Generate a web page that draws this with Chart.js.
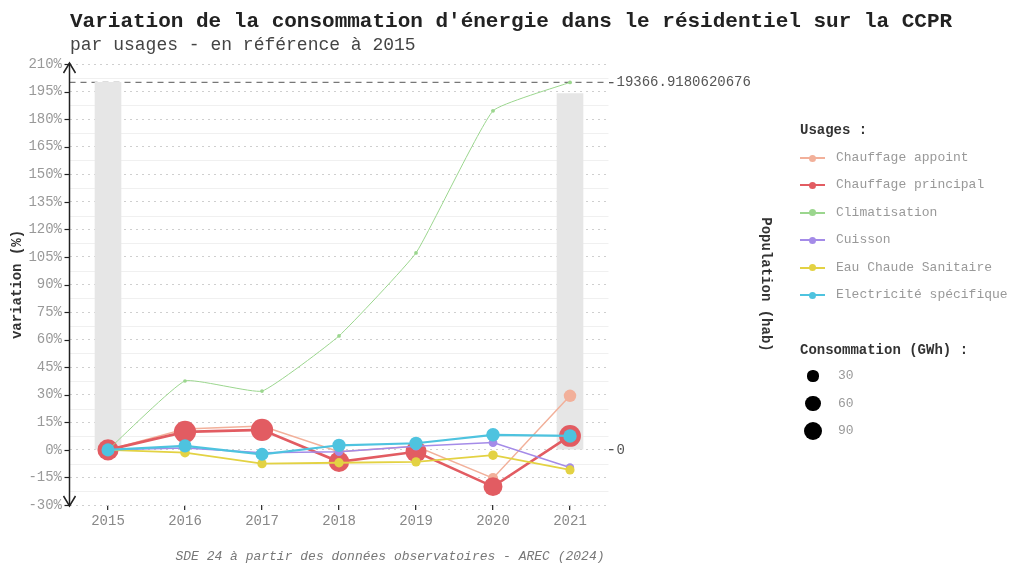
<!DOCTYPE html>
<html>
<head>
<meta charset="utf-8">
<script src="https://cdn.jsdelivr.net/npm/chart.js@4"></script>
<style>
  html, body { margin:0; padding:0; background:#fff; }
  #page { position:relative; width:1013px; height:565px; overflow:hidden; font-family:'Liberation Mono', 'DejaVu Sans Mono', monospace; }
  #c { position:absolute; left:0; top:0; }
  .abs { position:absolute; white-space:nowrap; }
  #title { left:70px; top:10px; font-size:21px; line-height:24px; font-weight:bold; color:#222; }
  #subtitle { left:70px; top:34px; font-size:18px; line-height:22px; color:#444; }
  #caption { left:0; width:780px; text-align:center; top:549px; font-size:13px; line-height:16px; font-style:italic; color:#777; }
  .lgtitle { font-size:14px; font-weight:bold; color:#333; line-height:16px; }
  .lgtext { font-size:13px; color:#999; line-height:16px; }
</style>
</head>
<body>
<div id="page">
  <canvas id="c" width="1013" height="565"></canvas>
  <div id="title" class="abs">Variation de la consommation d'énergie dans le résidentiel sur la CCPR</div>
  <div id="subtitle" class="abs">par usages - en référence à 2015</div>
  <div id="caption" class="abs">SDE 24 à partir des données observatoires - AREC (2024)</div>
  <div id="legend"></div>
</div>
<script>
// ---------- DATA ----------
const years = ['2015', '2016', '2017', '2018', '2019', '2020', '2021'];
const usages = ['Chauffage appoint', 'Chauffage principal', 'Climatisation', 'Cuisson', 'Eau Chaude Sanitaire', 'Electricité spécifique'];

// variation vs 2015 (%)
const varAppoint   = [0, 11.4, 13.0, -1.0, 2.0, -15.4, 29.4];
const varPrincipal = [0, 9.8, 10.9, -6.5, -1.0, -20.0, 7.6];
const varClim      = [0, 37.5, 32.0, 62.0, 107.2, 184.5, 200.0];
const varCuisson   = [0, 1.0, -1.5, -1.0, 2.0, 4.0, -9.6];
const varECS       = [0, -1.5, -7.5, -7.0, -6.5, -2.9, -10.9];
const varElec      = [0, 2.2, -2.4, 2.5, 3.6, 8.2, 7.6];

// consommation (GWh), drives marker size
const consoAppoint   = [30, 33, 34, 30, 31, 25, 39];
const consoPrincipal = [118, 130, 131, 110, 117, 94, 127];
const consoClim      = [0.3, 0.4, 0.4, 0.5, 0.6, 0.9, 0.9];
const consoCuisson   = [17, 17.2, 16.7, 16.8, 17.3, 17.7, 15.4];
const consoECS       = [22, 21.7, 20.4, 20.5, 20.6, 21.4, 19.6];
const consoElec      = [43, 44, 42, 44, 44.5, 46.5, 46];

// population (hab), secondary axis
const population = [19366.9180620676, null, null, null, null, null, 18770];
const popTicks = [0, 19366.9180620676];

// size legend breaks (GWh)
const sizeBreaks = [30, 60, 90];

// y axis ticks (%)
const yMin = -30, yMax = 210, yStep = 15;

// ---------- STYLE ----------
const colors = ['#F2B09A', '#E25C62', '#9BD68E', '#A48BE8', '#E3D243', '#4EC3DF'];
const lineWidths = [1.5, 2.6, 1, 1.5, 1.8, 2.2];
const MONO = "'Liberation Mono', 'DejaVu Sans Mono', monospace";

function sizeRadius(v) { return Math.sqrt(3 + 0.92 * v); }

const varSeries = [varAppoint, varPrincipal, varClim, varCuisson, varECS, varElec];
const consoSeries = [consoAppoint, consoPrincipal, consoClim, consoCuisson, consoECS, consoElec];
const drawOrder = [5, 4, 3, 2, 1, 0]; // later usages on top

const datasets = usages.map((name, i) => ({
  type: 'line',
  label: name,
  data: varSeries[i],
  yAxisID: 'y',
  borderColor: colors[i],
  backgroundColor: colors[i],
  borderWidth: lineWidths[i],
  pointRadius: consoSeries[i].map(sizeRadius),
  pointHoverRadius: consoSeries[i].map(sizeRadius),
  pointBorderWidth: 0,
  pointBackgroundColor: colors[i],
  tension: name === 'Climatisation' ? 0.12 : 0,
  order: drawOrder[i]
}));

datasets.push({
  type: 'bar',
  label: 'Population',
  data: population,
  yAxisID: 'y2',
  backgroundColor: '#e6e6e6',
  barThickness: 26,
  order: 10
});

const secFactor = population[0] / 200;

const decorPlugin = {
  id: 'decor',
  beforeDatasetsDraw(chart) {
    const {ctx, chartArea} = chart;
    const y = chart.scales.y, y2 = chart.scales.y2;
    ctx.save();
    // minor grid lines (midpoints between major ticks)
    ctx.strokeStyle = '#f0f0f0';
    ctx.lineWidth = 1;
    const t = y.ticks.map(k => k.value);
    for (let i = 0; i < t.length - 1; i++) {
      const py = Math.round(y.getPixelForValue((t[i] + t[i + 1]) / 2)) + 0.5;
      ctx.beginPath(); ctx.moveTo(chartArea.left, py); ctx.lineTo(chartArea.right, py); ctx.stroke();
    }
    // dashed population reference line
    const py = y2.getPixelForValue(population[0]);
    ctx.strokeStyle = '#777';
    ctx.lineWidth = 1.3;
    ctx.setLineDash([6, 5]);
    ctx.beginPath(); ctx.moveTo(chartArea.left, py); ctx.lineTo(chartArea.right, py); ctx.stroke();
    ctx.restore();
  },
  afterDraw(chart) {
    const {ctx, chartArea} = chart;
    const y = chart.scales.y;
    const x0 = Math.round(chartArea.left) - 0.5;
    const top = y.getPixelForValue(yMax) - 1, bot = y.getPixelForValue(yMin) + 1;
    ctx.save();
    ctx.strokeStyle = '#222';
    ctx.lineWidth = 1.5;
    ctx.beginPath(); ctx.moveTo(x0, top); ctx.lineTo(x0, bot); ctx.stroke();
    // arrowheads
    ctx.beginPath();
    ctx.moveTo(x0 - 6, top + 10); ctx.lineTo(x0, top); ctx.lineTo(x0 + 6, top + 10);
    ctx.moveTo(x0 - 6, bot - 10); ctx.lineTo(x0, bot); ctx.lineTo(x0 + 6, bot - 10);
    ctx.stroke();
    // tick marks
    ctx.lineWidth = 1.2;
    y.ticks.forEach(k => {
      const py = Math.round(y.getPixelForValue(k.value)) + 0.5;
      ctx.beginPath(); ctx.moveTo(x0 - 5, py); ctx.lineTo(x0, py); ctx.stroke();
    });
    ctx.restore();
  }
};

new Chart(document.getElementById('c'), {
  type: 'line',
  data: { labels: years, datasets },
  options: {
    responsive: false,
    devicePixelRatio: 1,
    animation: false,
    layout: { padding: { left: 5, top: 64, right: 234.6, bottom: 20 } },
    plugins: { legend: { display: false }, tooltip: { enabled: false }, title: { display: false } },
    scales: {
      x: {
        type: 'category',
        offset: true,
        afterFit: s => { s.height = 40; },
        grid: { offset: false, drawOnChartArea: false, drawTicks: true, tickLength: 5, color: '#333', lineWidth: 1.3 },
        border: { display: false },
        ticks: { color: '#888', padding: 3, font: { family: MONO, size: 14 }, maxRotation: 0 }
      },
      y: {
        position: 'left',
        min: yMin, max: yMax,
        afterFit: s => { s.width = 64.5; },
        ticks: { stepSize: yStep, color: '#999', padding: 7.5, font: { family: MONO, size: 14 }, callback: v => v + '%' },
        grid: { color: '#cfcfcf', lineWidth: 1, drawTicks: false },
        border: { display: false, dash: [2, 4] },
        title: { display: true, text: 'variation (%)', color: '#333', font: { family: MONO, size: 14, weight: 'bold' } }
      },
      y2: {
        position: 'right',
        min: yMin * secFactor, max: yMax * secFactor,
        afterFit: s => { s.width = 169.9; },
        afterBuildTicks: s => { s.ticks = popTicks.map(v => ({ value: v })); },
        ticks: { color: '#555', padding: 3, font: { family: MONO, size: 14 }, callback: v => String(v) },
        grid: { drawOnChartArea: false, drawTicks: true, tickLength: 5, color: '#555', lineWidth: 1.3 },
        border: { display: false },
        title: { display: true, text: 'Population (hab)', color: '#333', font: { family: MONO, size: 14, weight: 'bold' } }
      }
    }
  },
  plugins: [decorPlugin]
});

// ---------- LEGEND (HTML) ----------
const lg = document.getElementById('legend');
let html = '<div class="abs lgtitle" style="left:800px;top:122px;">Usages :</div>';
const itemY = [158, 185.4, 212.8, 240.2, 267.6, 295];
usages.forEach((u, i) => {
  const cy = itemY[i];
  html += `<div class="abs" style="left:800px;top:${cy - 1}px;width:25px;height:2px;background:${colors[i]};"></div>`;
  html += `<div class="abs" style="left:809px;top:${cy - 3.5}px;width:7px;height:7px;border-radius:50%;background:${colors[i]};"></div>`;
  html += `<div class="abs lgtext" style="left:836px;top:${cy - 8}px;">${u}</div>`;
});
html += '<div class="abs lgtitle" style="left:800px;top:342px;">Consommation (GWh) :</div>';
const sizeY = [376, 403.5, 431];
sizeBreaks.forEach((b, i) => {
  const r = sizeRadius(b);
  html += `<div class="abs" style="left:${813 - r}px;top:${sizeY[i] - r}px;width:${2 * r}px;height:${2 * r}px;border-radius:50%;background:#000;"></div>`;
  html += `<div class="abs lgtext" style="left:838px;top:${sizeY[i] - 8}px;">${b}</div>`;
});
lg.innerHTML = html;
</script>
</body>
</html>
